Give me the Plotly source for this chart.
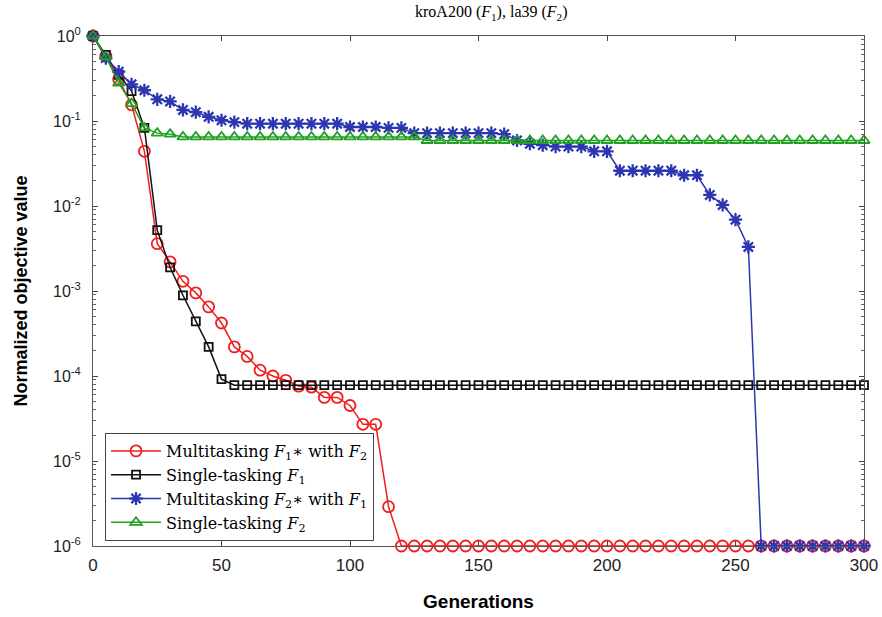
import plotly.graph_objects as go

generations = [0, 5, 10, 15, 20, 25, 30, 35, 40, 45, 50, 55, 60, 65, 70, 75, 80, 85, 90, 95,
               100, 105, 110, 115, 120, 125, 130, 135, 140, 145, 150, 155, 160, 165, 170, 175, 180, 185, 190, 195,
               200, 205, 210, 215, 220, 225, 230, 235, 240, 245, 250, 255, 260, 265, 270, 275, 280, 285, 290, 295, 300]

multi_f1 = [1.0, 0.58, 0.31, 0.155, 0.044, 0.0036, 0.0022, 0.0013, 0.00095, 0.00065,
            0.00042, 0.00022, 0.00017, 0.000117, 0.0001, 0.000089, 0.000076, 0.000074, 0.000056, 0.000056,
            0.000045, 0.000027, 0.000027, 2.9e-6, 1e-6, 1e-6, 1e-6, 1e-6, 1e-6, 1e-6,
            1e-6, 1e-6, 1e-6, 1e-6, 1e-6, 1e-6, 1e-6, 1e-6, 1e-6, 1e-6,
            1e-6, 1e-6, 1e-6, 1e-6, 1e-6, 1e-6, 1e-6, 1e-6, 1e-6, 1e-6,
            1e-6, 1e-6, 1e-6, 1e-6, 1e-6, 1e-6, 1e-6, 1e-6, 1e-6, 1e-6, 1e-6]

single_f1 = [1.0, 0.6, 0.35, 0.225, 0.083, 0.0052, 0.0019, 0.00089, 0.00044, 0.00022,
             0.000092, 7.8e-5, 7.8e-5, 7.8e-5, 7.8e-5, 7.8e-5, 7.8e-5, 7.8e-5, 7.8e-5, 7.8e-5,
             7.8e-5, 7.8e-5, 7.8e-5, 7.8e-5, 7.8e-5, 7.8e-5, 7.8e-5, 7.8e-5, 7.8e-5, 7.8e-5,
             7.8e-5, 7.8e-5, 7.8e-5, 7.8e-5, 7.8e-5, 7.8e-5, 7.8e-5, 7.8e-5, 7.8e-5, 7.8e-5,
             7.8e-5, 7.8e-5, 7.8e-5, 7.8e-5, 7.8e-5, 7.8e-5, 7.8e-5, 7.8e-5, 7.8e-5, 7.8e-5,
             7.8e-5, 7.8e-5, 7.8e-5, 7.8e-5, 7.8e-5, 7.8e-5, 7.8e-5, 7.8e-5, 7.8e-5, 7.8e-5, 7.8e-5]

multi_f2 = [1.0, 0.55, 0.38, 0.27, 0.23, 0.18, 0.17, 0.135, 0.127, 0.112,
            0.102, 0.097, 0.093, 0.093, 0.093, 0.093, 0.093, 0.093, 0.093, 0.093,
            0.085, 0.085, 0.085, 0.083, 0.083, 0.072, 0.072, 0.072, 0.072, 0.072,
            0.072, 0.072, 0.07, 0.059, 0.054, 0.052, 0.05, 0.05, 0.05, 0.044,
            0.044, 0.026, 0.026, 0.026, 0.026, 0.026, 0.023, 0.023, 0.0135, 0.0103,
            0.0069, 0.0033, 1e-6, 1e-6, 1e-6, 1e-6, 1e-6, 1e-6, 1e-6, 1e-6, 1e-6]

single_f2 = [1.0, 0.57, 0.28, 0.16, 0.083, 0.072, 0.07, 0.065, 0.065, 0.065,
             0.065, 0.065, 0.065, 0.065, 0.065, 0.065, 0.065, 0.065, 0.065, 0.065,
             0.065, 0.065, 0.065, 0.065, 0.065, 0.065, 0.059, 0.059, 0.059, 0.059,
             0.059, 0.059, 0.059, 0.059, 0.059, 0.059, 0.059, 0.059, 0.059, 0.059,
             0.059, 0.059, 0.059, 0.059, 0.059, 0.059, 0.059, 0.059, 0.059, 0.059,
             0.059, 0.059, 0.059, 0.059, 0.059, 0.059, 0.059, 0.059, 0.059, 0.059, 0.059]

series_names = [
    "Multitasking <i>F</i><sub>1</sub>∗ with <i>F</i><sub>2</sub>",
    "Single-tasking <i>F</i><sub>1</sub>",
    "Multitasking <i>F</i><sub>2</sub>∗ with <i>F</i><sub>1</sub>",
    "Single-tasking <i>F</i><sub>2</sub>",
]

x_ticks = [0, 50, 100, 150, 200, 250, 300]
y_tickvals = [1e-6, 1e-5, 1e-4, 1e-3, 1e-2, 1e-1, 1]
y_ticktext = ["10<sup>-6</sup>", "10<sup>-5</sup>", "10<sup>-4</sup>", "10<sup>-3</sup>",
              "10<sup>-2</sup>", "10<sup>-1</sup>", "10<sup>0</sup>"]

styles = [
    dict(color="#f01e1e", symbol="circle-open", size=11, lw=1.8),
    dict(color="#111111", symbol="square-open", size=8, lw=1.8),
    dict(color="#2c36b0", symbol="asterisk-open", size=11, lw=2.3),
    dict(color="#22a022", symbol="triangle-up-open", size=10, lw=1.8),
]

fig = go.Figure()
for name, vals, st in zip(series_names, [multi_f1, single_f1, multi_f2, single_f2], styles):
    fig.add_trace(go.Scatter(
        x=generations, y=vals, name=name, mode="lines+markers",
        line=dict(color=st["color"], width=1.5),
        marker=dict(symbol=st["symbol"], size=st["size"], color=st["color"],
                    line=dict(color=st["color"], width=st["lw"])),
        cliponaxis=False,
    ))

fig.update_layout(
    width=882, height=617,
    margin=dict(l=93, r=18, t=36, b=71),
    plot_bgcolor="white", paper_bgcolor="white",
    font=dict(family="Liberation Sans, Arial, sans-serif", color="black", size=14),
    title=dict(
        text="kroA200 (<i>F</i><sub>1</sub>), la39 (<i>F</i><sub>2</sub>)",
        x=0.557, xanchor="center", y=0.981, yanchor="middle",
        font=dict(family="Liberation Serif, DejaVu Serif, serif", size=16, color="black"),
    ),
    xaxis=dict(
        range=[0, 300], tickvals=x_ticks, ticks="inside", ticklen=5, tickcolor="#444",
        showline=True, linecolor="#555", linewidth=1, mirror="ticks",
        showgrid=False, zeroline=False, automargin=False,
        tickfont=dict(size=17, color="#222"), ticklabelstandoff=4,
        title=dict(text="Generations", font=dict(size=19, weight="bold"), standoff=20),
    ),
    yaxis=dict(
        type="log", range=[-6, 0], tickvals=y_tickvals, ticktext=y_ticktext,
        ticks="inside", ticklen=5, tickcolor="#444",
        minor=dict(ticks="inside", ticklen=3, dtick="D1", tickcolor="#666", showgrid=False),
        showline=True, linecolor="#555", linewidth=1, mirror="ticks",
        showgrid=False, zeroline=False, automargin=False,
        tickfont=dict(size=16, color="#222"), ticklabelstandoff=8,
        title=dict(text="Normalized objective value", font=dict(size=18, weight="bold"), standoff=20),
    ),
    legend=dict(
        x=0.0156, y=0.2216, xanchor="left", yanchor="top",
        bgcolor="white", bordercolor="#444", borderwidth=1,
        font=dict(family="DejaVu Serif, Liberation Serif, serif", size=16, color="black"),
        tracegroupgap=0, itemwidth=50,
    ),
)

fig.write_html("out.html", config={"displayModeBar": False},
               post_script="document.body.style.margin='0';")
